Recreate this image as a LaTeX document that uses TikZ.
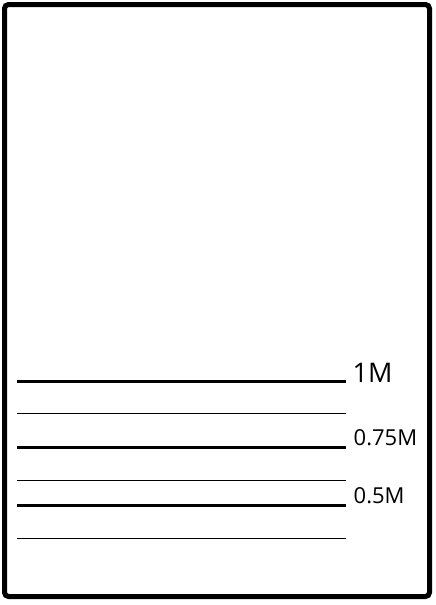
\documentclass[tikz,border=0pt]{standalone}
\usepackage{fontspec}
\setmainfont{Open Sans}
\usepackage{tikz}
\usetikzlibrary{positioning}

\begin{document}
\begin{tikzpicture}[x=1pt,y=-1pt,
        frame/.style={draw=black,line width=5pt,rounded corners=4pt},
        major/.style={draw=black,line width=3pt},
        minor/.style={draw=black,line width=1pt},
        lbl/.style={anchor=base west,inner sep=0pt,font=\fontsize{22}{26}\selectfont},
        biglbl/.style={lbl,font=\fontsize{27}{32}\selectfont}]
        \useasboundingbox (0,0) rectangle (436,605);
        \draw[frame] (4.5,4.5) rectangle (429.5,596.5);
        % graduation marks
        \coordinate (m1l) at (17,381);   \coordinate (m1r) at (346,381);
        \coordinate (t1l) at (17,413.5); \coordinate (t1r) at (346,413.5);
        \coordinate (m2l) at (17,447);   \coordinate (m2r) at (346,447);
        \coordinate (t2l) at (17,480.5); \coordinate (t2r) at (346,480.5);
        \coordinate (m3l) at (17,505);   \coordinate (m3r) at (346,505);
        \coordinate (t3l) at (17,538.5); \coordinate (t3r) at (346,538.5);
        \draw[major] (m1l)--(m1r);\draw[minor] (t1l)--(t1r);
        \draw[major] (m2l)--(m2r);\draw[minor] (t2l)--(t2r);
        \draw[major] (m3l)--(m3r);\draw[minor] (t3l)--(t3r);
        % labels
        \node[biglbl] (lab1) at (352.5,382) {1M};
        \node[lbl] (lab2) at (353.5,445.5) {0.75M};
        \node[lbl] (lab3) at (353.5,503.5) {0.5M};
      \end{tikzpicture}
\end{document}
